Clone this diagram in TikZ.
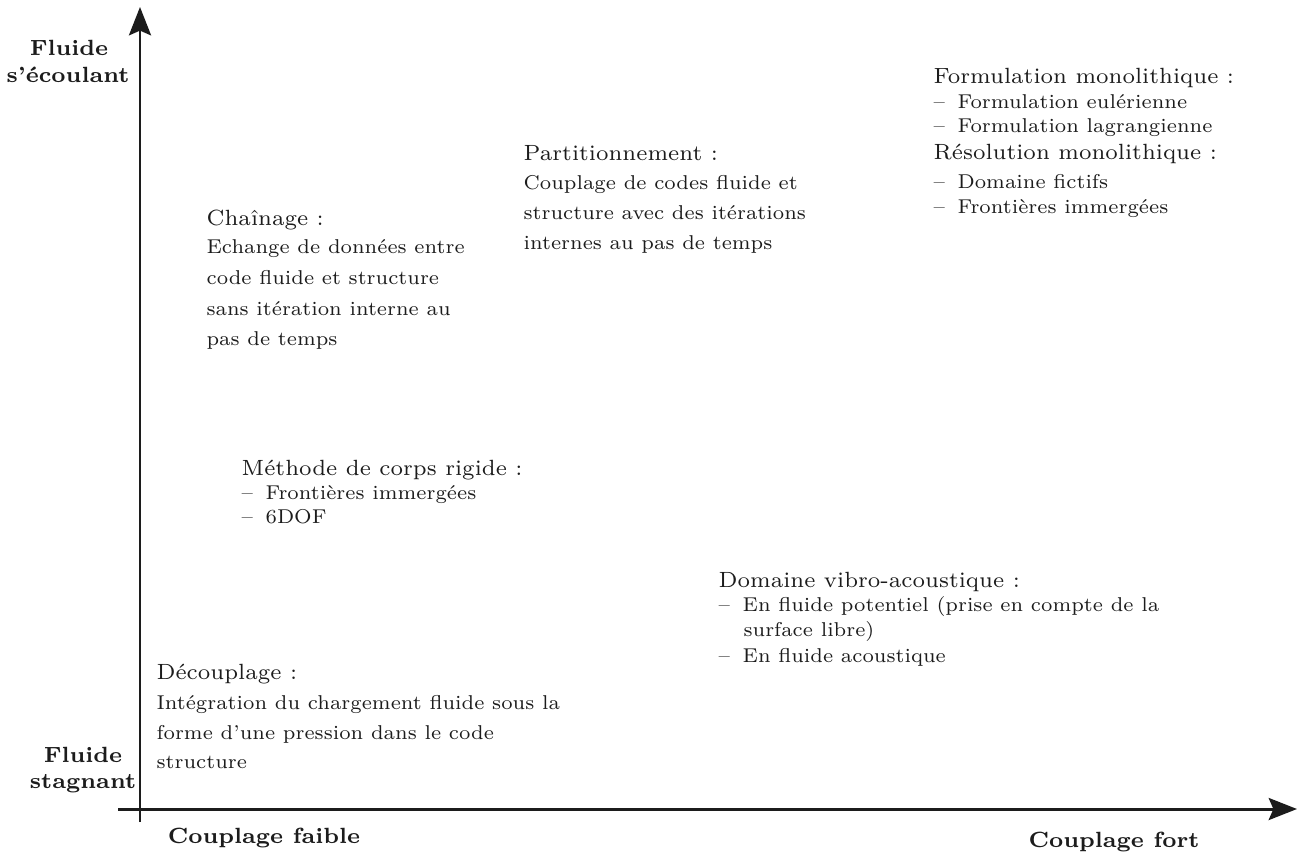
\documentclass[tikz,border=0pt]{standalone}
\usetikzlibrary{arrows.meta}
\definecolor{txt}{RGB}{28,28,28}
\newcommand{\itm}{\makebox[8.4pt][l]{–}}
\begin{document}
\begin{tikzpicture}[x=0.318pt,y=-0.318pt,
  hdr/.style={anchor=base west,inner sep=0pt,text=txt,font=\fontsize{7}{8}\selectfont},
  bod/.style={anchor=base west,inner sep=0pt,text=txt,scale=0.91,font=\fontsize{7}{8}\selectfont},
  axl/.style={anchor=base,inner sep=0pt,text=txt,font=\fontsize{7}{9}\selectfont\bfseries},
  axisline/.style={line width=0.95pt,draw=txt,-{Stealth[length=9pt,width=7pt,inset=1.5pt]}}]
\useasboundingbox (0,0) rectangle (1299,852);
% axes
\coordinate (vb) at (140,822);
\coordinate (vt) at (140,7);
\coordinate (hl) at (118,809);
\coordinate (hr) at (1297,809);
\draw[axisline] (vb) -- (vt);
\draw[axisline] (hl) -- (hr);
% axis labels
\node[axl] (yt1) at (69,55) {Fluide};
\node[axl] (yt2) at (68,82) {s’écoulant};
\node[axl] (yb1) at (83,762) {Fluide};
\node[axl] (yb2) at (83,788) {stagnant};
\node[axl] (xl) at (264,843) {Couplage faible};
\node[axl] (xr) at (1114,847) {Couplage fort};
% Formulation monolithique
\node[hdr] (f1) at (933,83) {Formulation monolithique :};
\node[bod] (f2) at (933,108) {\itm Formulation eulérienne};
\node[bod] (f3) at (933,132) {\itm Formulation lagrangienne};
\node[hdr] (f4) at (933,159) {Résolution monolithique :};
\node[bod] (f5) at (933,188) {\itm Domaine fictifs};
\node[bod] (f6) at (933,213) {\itm Frontières immergées};
% Partitionnement
\node[hdr] (p1) at (523,160) {Partitionnement :};
\node[bod] (p2) at (523,189) {Couplage de codes fluide et};
\node[bod] (p3) at (523,219) {structure avec des itérations};
\node[bod] (p4) at (523,249) {internes au pas de temps};
% Chainage
\node[hdr] (c1) at (206,225) {Chaînage :};
\node[bod] (c2) at (206,253) {Echange de données entre};
\node[bod] (c3) at (206,284) {code fluide et structure};
\node[bod] (c4) at (206,315) {sans itération interne au};
\node[bod] (c5) at (206,345) {pas de temps};
% Methode de corps rigide
\node[hdr] (m1) at (241,475) {Méthode de corps rigide :};
\node[bod] (m2) at (241,499) {\itm Frontières immergées};
\node[bod] (m3) at (241,523) {\itm 6DOF};
% Domaine vibro-acoustique
\node[hdr] (v1) at (718,587) {Domaine vibro-acoustique :};
\node[bod] (v2) at (718,611) {\itm En fluide potentiel (prise en compte de la};
\node[bod] (v3) at (743,636) {surface libre)};
\node[bod] (v4) at (718,662) {\itm En fluide acoustique};
% Decouplage
\node[hdr] (d1) at (156,679) {Découplage :};
\node[bod] (d2) at (156,709) {Intégration du chargement fluide sous la};
\node[bod] (d3) at (156,739) {forme d’une pression dans le code};
\node[bod] (d4) at (156,768) {structure};
\end{tikzpicture}
\end{document}
